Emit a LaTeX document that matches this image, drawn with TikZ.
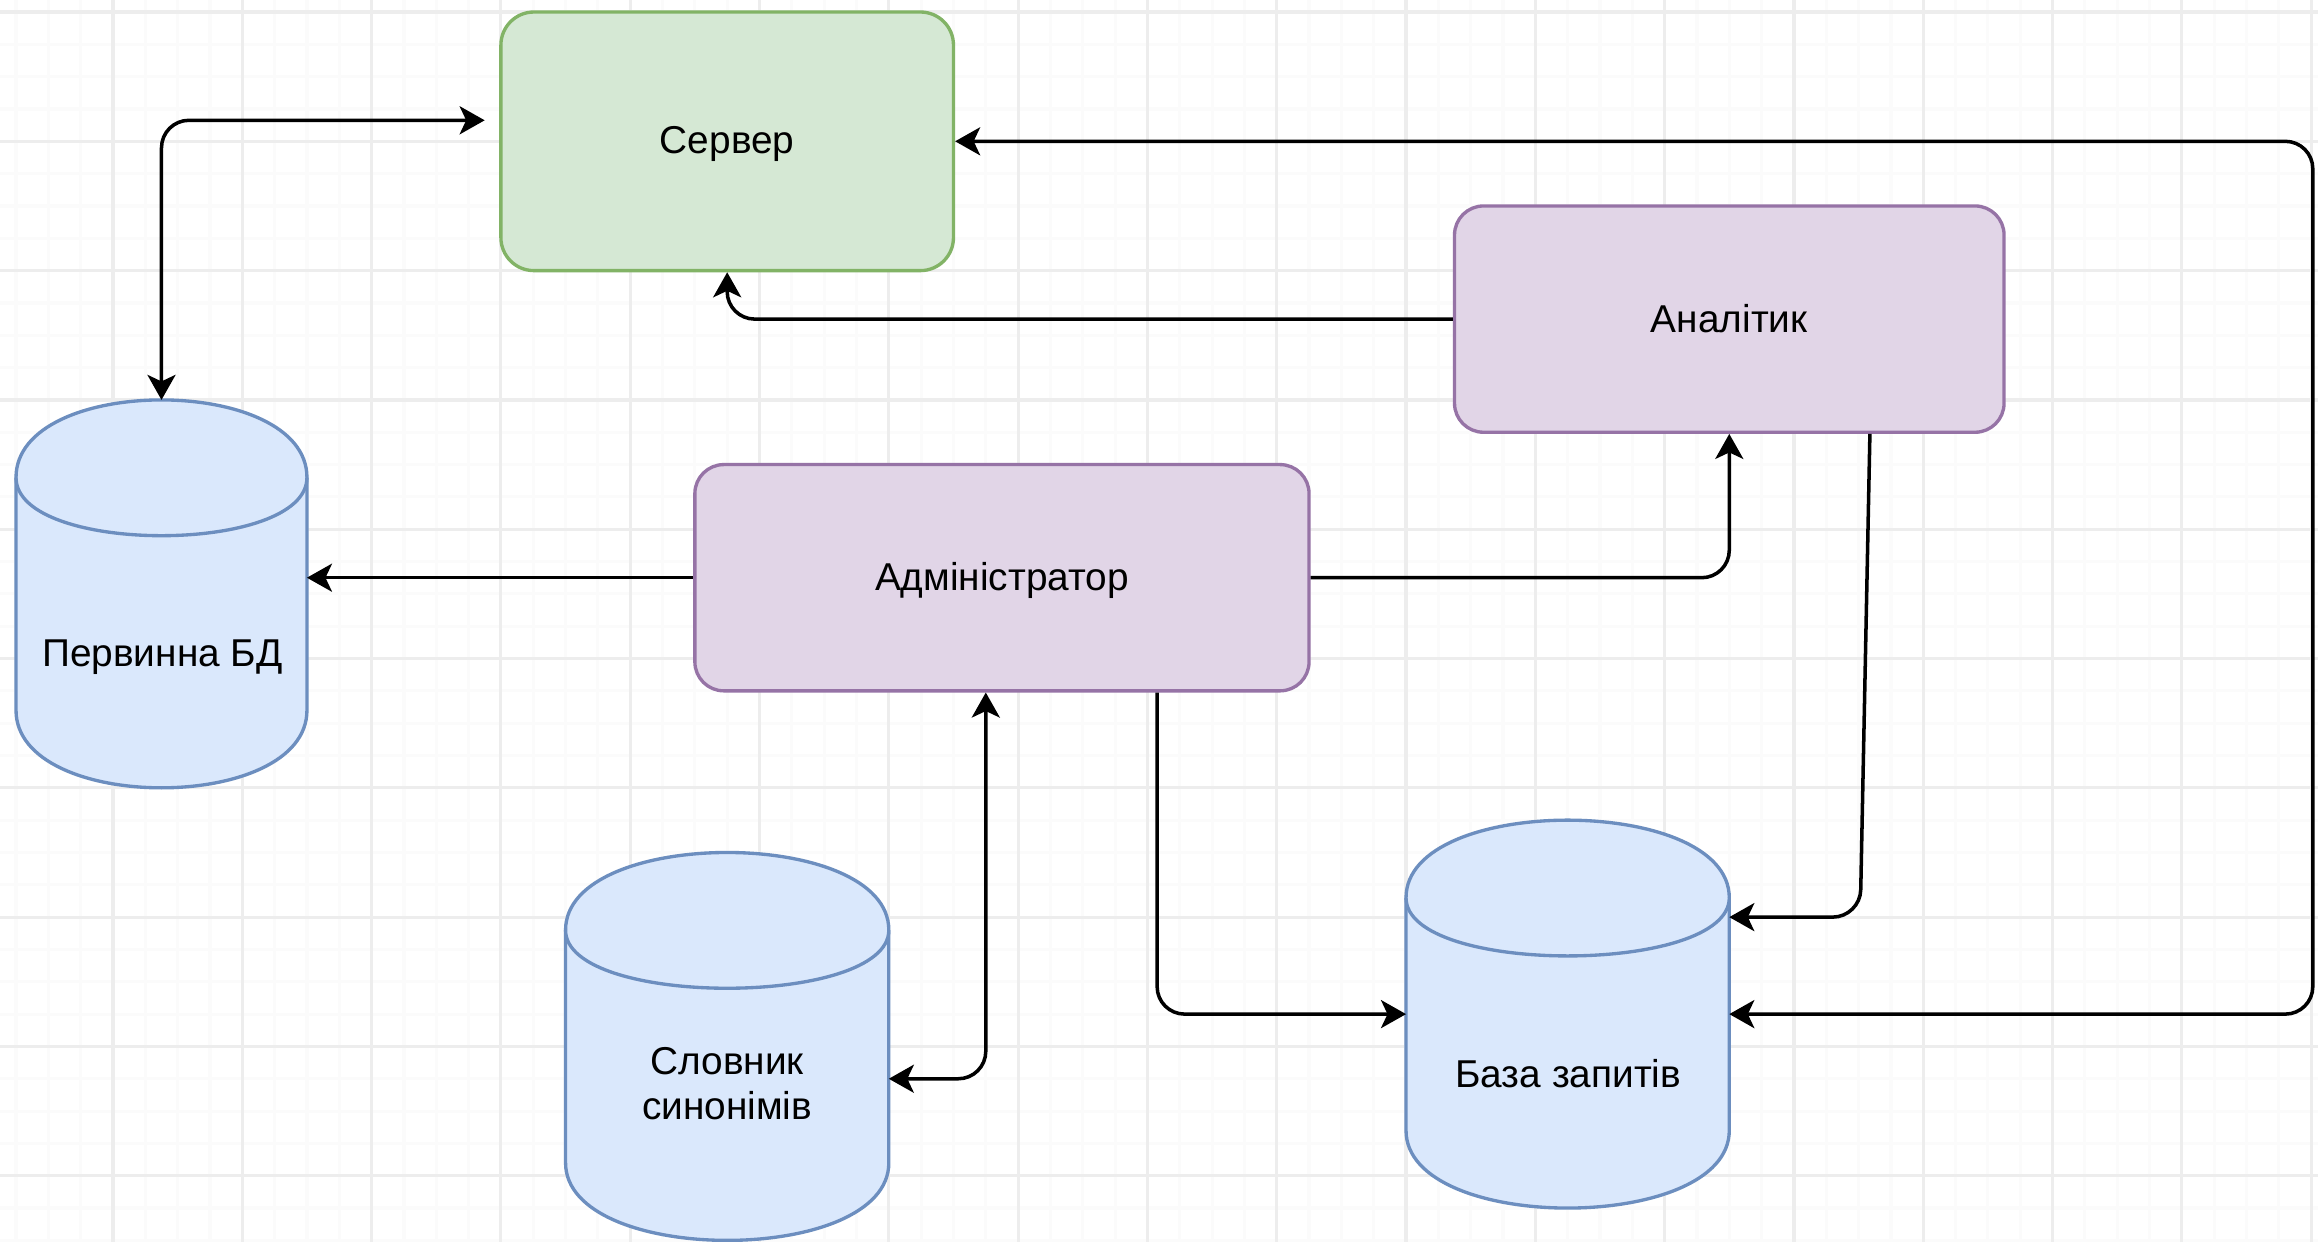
\documentclass[tikz,border=0pt]{standalone}
\usepackage{fontspec}
\setmainfont{Liberation Sans}
\usetikzlibrary{arrows.meta,calc}
\definecolor{grnfill}{HTML}{D5E8D4}
\definecolor{grnline}{HTML}{82B366}
\definecolor{purfill}{HTML}{E1D5E7}
\definecolor{purline}{HTML}{9673A6}
\definecolor{blufill}{HTML}{DAE8FC}
\definecolor{bluline}{HTML}{6C8EBF}
\definecolor{gridmaj}{HTML}{EDEDED}
\definecolor{gridmin}{HTML}{FBFBFB}
\def\U{0.032325cm}
\newcommand{\drawdbcyl}[4]{%
  \filldraw[cylst] (#1,#2+24) .. controls (#1,#2-8) and (#1+#3,#2-8) .. (#1+#3,#2+24)
    -- (#1+#3,#2+#4-24) .. controls (#1+#3,#2+#4+8) and (#1,#2+#4+8) .. (#1,#2+#4-24) -- cycle;
  \draw[cylst] (#1,#2+24) .. controls (#1,#2+48) and (#1+#3,#2+48) .. (#1+#3,#2+24);
}
\tikzset{
  txt/.style={font=\fontsize{11.04pt}{13.25pt}\selectfont, text=black},
  srvbox/.style={rectangle, rounded corners=0.33cm, draw=grnline, fill=grnfill, line width=0.95pt,
    minimum width=140*\U, minimum height=80*\U, inner sep=0pt},
  purbox/.style={rectangle, rounded corners=0.29cm, draw=purline, fill=purfill, line width=0.95pt,
    minimum height=70*\U, inner sep=0pt},
  cylnode/.style={rectangle, draw=none, inner sep=0pt, outer sep=0pt, minimum height=120*\U},
  cylst/.style={draw=bluline, fill=blufill, line width=0.95pt},
  lbl/.style={inner sep=0pt, txt, anchor=base},
  conn/.style={draw=black, line width=1pt, rounded corners=0.275cm},
  tipa/.tip={Stealth[length=0.25cm, width=0.28cm, inset=0.065cm]},
  arr/.style={conn, -tipa},
  both/.style={conn, tipa-tipa},
  gmin/.style={draw=gridmin, line width=0.9pt},
  gmaj/.style={draw=gridmaj, line width=0.9pt},
}
\begin{document}
\begin{tikzpicture}[x=0.032325cm, y=-0.032325cm]
\useasboundingbox[fill=white] (5.043,-3.712) rectangle (722.12,380.2);
% grid
\foreach \u in {10,20,...,720} \draw[gmin] (\u,-4) -- (\u,381);
\foreach \v in {0,10,...,380} \draw[gmin] (5,\v) -- (723,\v);
\foreach \u in {40,80,...,720} \draw[gmaj] (\u,-4) -- (\u,381);
\foreach \v in {0,40,...,360} \draw[gmaj] (5,\v) -- (723,\v);

% boxes
\node[srvbox] (srv) at (230,40) {};
\node[purbox, minimum width=170*\U] (ana) at (540,95) {};
\node[purbox, minimum width=190*\U] (adm) at (315,175) {};
\node[lbl] (srvl) at (230,43.9) {Сервер};
\node[lbl] (anal) at (540,99.1) {Аналітик};
\node[lbl] (adml) at (315,179) {Адміністратор};

% cylinders
\drawdbcyl{10}{120}{90}{120}
\drawdbcyl{180}{260}{100}{120}
\drawdbcyl{440}{250}{100}{120}
\node[cylnode, minimum width=90*\U] (pdb) at (55,180) {};
\node[cylnode, minimum width=100*\U] (syn) at (230,320) {};
\node[cylnode, minimum width=100*\U] (qdb) at (490,310) {};
\node[lbl] (pdbl) at (55.3,202.5) {Первинна БД};
\node[lbl] (synla) at (230,328.6) {Словник};
\node[lbl] (synlb) at (230,342.5) {синонімів};
\node[lbl] (qdbl) at (490.2,332.6) {База запитів};

% connectors
\coordinate (c1) at ($(srv.west)+(-4.5,-6.5)$);
\draw[both] (c1) -| (pdb.north);
\draw[arr] (ana.west) -| (srv.south);
\draw[arr] (adm.west) -- (adm.west -| pdb.east);
\draw[arr] (adm.east) -| (ana.south);
\coordinate (a5) at ($(adm.south)+(-5,0)$);
\coordinate (s5) at ($(syn.east)+(0,10)$);
\draw[both] (a5) |- (s5);
\coordinate (a6) at ($(adm.south)+(48,0)$);
\draw[arr] (a6) |- (qdb.west);
\coordinate (a7) at ($(ana.south)+(43.5,0)$);
\coordinate (q7) at ($(qdb.east)+(0,-30)$);
\draw[arr] (a7) -- ($(q7)+(40.5,0)$) -- (q7);
\draw[both] (srv.east) -- ++(420,0) |- (qdb.east);
\end{tikzpicture}
\end{document}
